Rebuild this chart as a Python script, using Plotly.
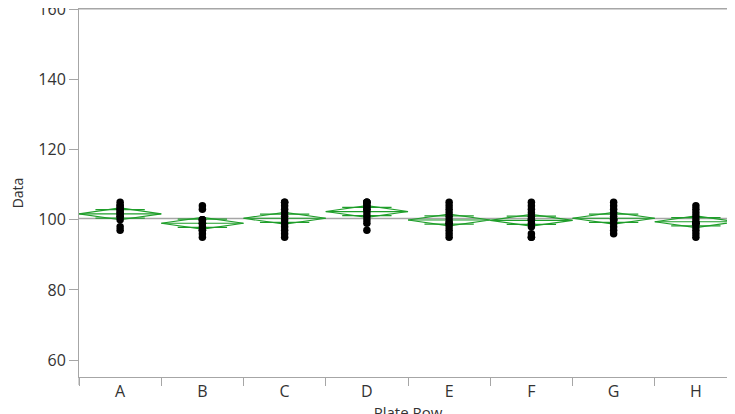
import numpy as np
import plotly.graph_objects as go

categories = ["A", "B", "C", "D", "E", "F", "G", "H"]
values_A = [105, 104, 104, 103, 103, 102, 102, 101, 101, 100, 98, 97]
values_B = [104, 103, 100, 100, 100, 99, 99, 98, 97, 97, 96, 95]
values_C = [105, 105, 104, 103, 102, 101, 100, 99, 98, 97, 96, 95]
values_D = [105, 105, 105, 104, 104, 103, 103, 102, 101, 100, 99, 97]
values_E = [105, 104, 103, 102, 101, 100, 99, 99, 98, 97, 96, 95]
values_F = [105, 104, 103, 102, 101, 100, 100, 99, 98, 96, 95, 95]
values_G = [105, 104, 103, 102, 101, 100, 100, 100, 99, 98, 97, 96]
values_H = [104, 103, 102, 101, 100, 99, 99, 99, 98, 97, 96, 95]
groups = [values_A, values_B, values_C, values_D, values_E, values_F, values_G, values_H]
y_ticks = [60, 80, 100, 120, 140, 160]

GREEN = "#1f9e2a"
AXIS = "#a6a6a6"
TEXT = "#333333"
FONT = "Open Sans"

# pooled statistics for means diamonds
n_total = sum(len(g) for g in groups)
means = [float(np.mean(g)) for g in groups]
ss = sum(float(np.sum((np.array(g) - np.mean(g)) ** 2)) for g in groups)
dfe = n_total - len(groups)
sp = np.sqrt(ss / dfe)
t_crit = 1.988
grand_mean = float(np.mean(np.concatenate([np.array(g) for g in groups])))

fig = go.Figure()

# grand mean line
fig.add_trace(go.Scatter(x=[-0.5, len(categories) - 0.5], y=[grand_mean, grand_mean],
                         mode="lines", line=dict(color=AXIS, width=1.5),
                         hoverinfo="skip", showlegend=False))

for i, g in enumerate(groups):
    m = means[i]
    ci = t_crit * sp / np.sqrt(len(g))
    hw = 0.5
    # diamond
    fig.add_trace(go.Scatter(
        x=[i - hw, i, i + hw, i, i - hw], y=[m, m + ci, m, m - ci, m],
        mode="lines", line=dict(color=GREEN, width=1.2),
        hoverinfo="skip", showlegend=False))
    # mean line
    fig.add_trace(go.Scatter(
        x=[i - hw, i + hw], y=[m, m], mode="lines",
        line=dict(color=GREEN, width=1.2), hoverinfo="skip", showlegend=False))
    # overlap marks
    om = ci / np.sqrt(2)
    for yy in (m + om, m - om):
        fig.add_trace(go.Scatter(
            x=[i - 0.3, i + 0.3], y=[yy, yy], mode="lines",
            line=dict(color=GREEN, width=1.2), hoverinfo="skip", showlegend=False))
    # points
    fig.add_trace(go.Scatter(
        x=[i] * len(g), y=g, mode="markers",
        marker=dict(color="black", size=7.5, line=dict(width=0)),
        showlegend=False, name=categories[i]))

fig.update_layout(
    width=735, height=414,
    margin=dict(l=71, r=6, t=1, b=45),
    paper_bgcolor="white", plot_bgcolor="white",
    font=dict(family=FONT, size=16, color=TEXT),
    xaxis=dict(
        range=[-0.5, len(categories) - 0.5],
        tickmode="array", tickvals=list(range(len(categories))), ticktext=categories,
        ticks="outside", ticklen=0, tickcolor="white",
        minor=dict(tickvals=[k - 0.5 for k in range(len(categories) + 1)],
                   ticks="outside", ticklen=8, tickcolor=AXIS, tickwidth=1),
        showgrid=False, zeroline=False,
        showline=True, linecolor=AXIS, linewidth=1, mirror=True,
        tickfont=dict(size=16, color=TEXT),
        title=dict(text="Plate Row", font=dict(size=15, color=TEXT), standoff=8),
        automargin=False,
    ),
    yaxis=dict(
        range=[55.2, 160.02],
        tickmode="array", tickvals=y_ticks,
        ticks="outside", ticklen=9, tickcolor=AXIS, tickwidth=1,
        ticklabeloverflow="allow",
        showgrid=False, zeroline=False,
        showline=True, linecolor=AXIS, linewidth=1, mirror=True,
        tickfont=dict(size=16, color=TEXT),
        title=dict(text="Data", font=dict(size=14, color=TEXT), standoff=14),
        automargin=False,
    ),
    shapes=[
        dict(type="line", xref="paper", yref="paper", x0=0, x1=0,
             y0=0, y1=-8 / 368, line=dict(color=AXIS, width=1)),
        dict(type="line", xref="paper", yref="paper", x0=0, x1=1,
             y0=1, y1=1, line=dict(color=AXIS, width=1)),
    ],
)

fig.write_html("out.html")
